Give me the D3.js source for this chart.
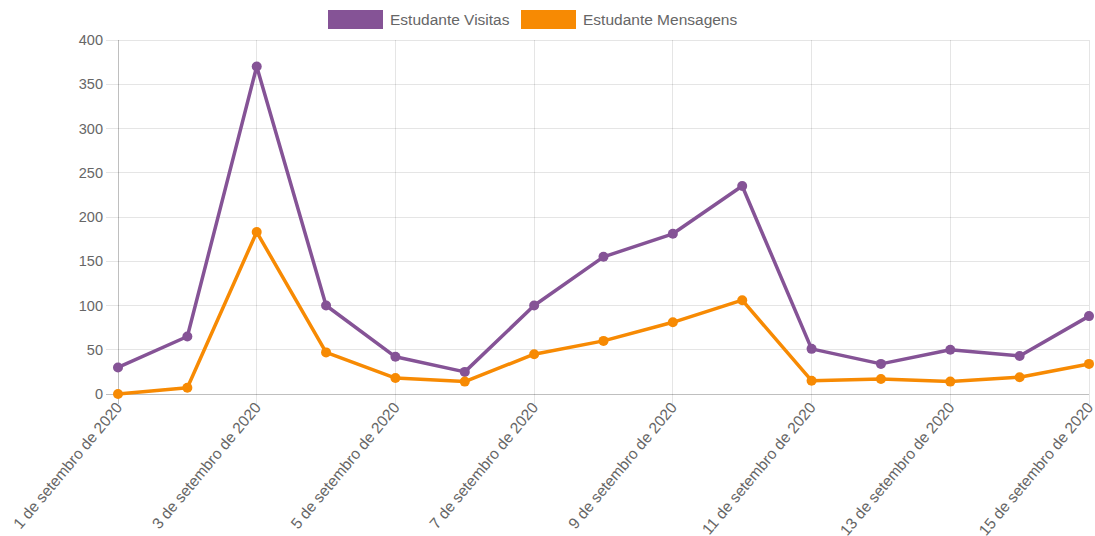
<!DOCTYPE html>
<html><head><meta charset="utf-8">
<script src="https://cdn.jsdelivr.net/npm/d3@7"></script>
<style>body{margin:0;background:#fff}svg{display:block}text{font-family:"Liberation Sans",Arial,Helvetica,sans-serif}</style>
</head><body><svg id="c" width="1095" height="536"></svg>
<script>
const categories = ["1 de setembro de 2020","2 de setembro de 2020","3 de setembro de 2020","4 de setembro de 2020","5 de setembro de 2020","6 de setembro de 2020","7 de setembro de 2020","8 de setembro de 2020","9 de setembro de 2020","10 de setembro de 2020","11 de setembro de 2020","12 de setembro de 2020","13 de setembro de 2020","14 de setembro de 2020","15 de setembro de 2020"];
const visitas = [30,65,370,100,42,25,100,155,181,235,51,34,50,43,88];
const mensagens = [0,7,183,47,18,14,45,60,81,106,15,17,14,19,34];
const yTicks = [0,50,100,150,200,250,300,350,400];
const seriesNames = ["Estudante Visitas","Estudante Mensagens"];
const colors = ["#855396","#f78a03"];

const svg = d3.select("#c");
const L=118,R=1089,T=40,B=394;
const x = d3.scalePoint().domain(categories).range([L,R]);
const y = d3.scaleLinear().domain([0,400]).range([B,T]);
const grid="rgba(0,0,0,0.1)";

yTicks.forEach(t=>{
  svg.append("line").attr("x1",L-12).attr("x2",R).attr("y1",y(t)).attr("y2",y(t))
    .attr("stroke",t===0?"rgba(0,0,0,0.25)":grid).attr("stroke-width",1).attr("shape-rendering","crispEdges");
  svg.append("text").attr("x",L-15).attr("y",y(t)).attr("dy","0.35em").attr("text-anchor","end")
    .attr("font-size",14.5).attr("fill","#666").text(t);
});
categories.forEach((c,i)=>{
  if(i%2!==0) return;
  svg.append("line").attr("x1",x(c)).attr("x2",x(c)).attr("y1",T).attr("y2",B+10)
    .attr("stroke",i===0?"rgba(0,0,0,0.25)":grid).attr("shape-rendering","crispEdges");
  svg.append("text").attr("transform",`translate(${x(c)+5},${B+14}) rotate(-50)`)
    .attr("text-anchor","end").attr("font-size",15.5).attr("fill","#666").text(c);
});

const line = d3.line().x((d,i)=>x(categories[i])).y(d=>y(d));
[visitas,mensagens].forEach((s,k)=>{
  svg.append("path").datum(s).attr("d",line).attr("fill","none").attr("stroke",colors[k])
    .attr("stroke-width",3.5).attr("stroke-linejoin","round");
  svg.selectAll(null).data(s).enter().append("circle")
    .attr("cx",(d,i)=>x(categories[i])).attr("cy",d=>y(d)).attr("r",5).attr("fill",colors[k]);
});

const lg=[{x:328,tx:390},{x:521,tx:583}];
seriesNames.forEach((n,k)=>{
  svg.append("rect").attr("x",lg[k].x).attr("y",10).attr("width",55).attr("height",19).attr("fill",colors[k]);
  svg.append("text").attr("x",lg[k].tx).attr("y",19.5).attr("dy","0.35em").attr("font-size",15.5).attr("fill","#666").text(n);
});
</script></body></html>
